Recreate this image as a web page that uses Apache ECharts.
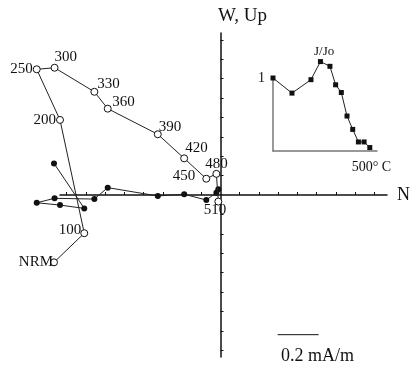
<!DOCTYPE html>
<html><head><meta charset="utf-8">
<script src="https://cdn.jsdelivr.net/npm/echarts@6/dist/echarts.min.js"></script>
<style>html,body{margin:0;padding:0;background:#fff}#c{width:413px;height:370px}</style>
</head><body><div id="c"></div>
<script>
// Demagnetization steps
const steps = ['NRM','100','200','250','300','330','360','390','420','450','480','510'];
const stepTemps = [0,100,200,250,300,330,360,390,420,450,480,510];
// N component (0.1 mA/m units)
const northVals = [-8.66,-7.10,-8.35,-9.55,-8.63,-6.58,-5.89,-3.31,-1.95,-0.81,-0.29,-0.19];
// vertical projection (W, Up) - open circles
const upVals = [-3.47,-1.97,3.87,6.48,6.56,5.32,4.45,3.13,1.89,0.84,1.09,-0.34];
// horizontal projection - filled circles
const horizVals = [1.63,-0.69,-0.52,-0.40,-0.17,-0.21,0.38,-0.05,0.04,-0.26,0.12,0.29];
// inset J/Jo
const jRatio = [1.0,0.793,0.977,1.225,1.160,0.907,0.801,0.479,0.296,0.124,0.124,0.047];
// axis ticks, axis extents and scale bar (0.1 mA/m units)
const mainTicks = [-8,-7,-6,-5,-4,-3,-2,-1,1,2,3,4,5,6,7,8];
const axisXExtent = [-8.35, 8.66];
const axisYExtent = [-8.35, 8.35];
const scaleBarX = [2.87, 4.98];
const scaleBarY = -7.2;
const insetTempLabel = 500;

// layout (pixels)
const W = 413, H = 370;
const ppu = 19.4, originX = 222, originY = 195;
const dataX = [-originX/ppu, (W-originX)/ppu];
const dataY = [-(H-originY)/ppu, originY/ppu];
const axGrid = {
  left: originX + axisXExtent[0]*ppu,
  right: W - (originX + axisXExtent[1]*ppu),
  top: originY - axisYExtent[1]*ppu,
  bottom: H - (originY - axisYExtent[0]*ppu)
};

const labelPlace = {
  'NRM': {position:'left', distance:0, offset:[3,0]},
  '100': {position:'left', distance:0, offset:[1,-3]},
  '200': {position:'left', distance:0, offset:[0,0]},
  '250': {position:'left', distance:0, offset:[0,0]},
  '300': {position:'right', distance:0, offset:[-4,-11]},
  '330': {position:'right', distance:0, offset:[-1,-7.5]},
  '360': {position:'right', distance:0, offset:[0.5,-7]},
  '390': {position:'right', distance:0, offset:[-3,-7.5]},
  '420': {position:'right', distance:0, offset:[-3,-10]},
  '450': {position:'left', distance:7, offset:[0,-3]},
  '480': {position:'right', distance:0, offset:[-15,-10]},
  '510': {position:'right', distance:0, offset:[-18.5,8.5]}
};
const serif = '"Liberation Serif","DejaVu Serif",serif';

const openData = steps.map((s,i)=>({
  value:[northVals[i], upVals[i]],
  label: Object.assign({show:true, formatter:s, fontFamily:serif, fontSize:15, color:'#111'}, labelPlace[s])
}));
const filledData = steps.map((s,i)=>[northVals[i], horizVals[i]]);
const insetData = steps.map((s,i)=>[stepTemps[i], jRatio[i]]);

const hiddenAxis = {axisLine:{show:false}, axisTick:{show:false}, axisLabel:{show:false}, splitLine:{show:false}};

const chart = echarts.init(document.getElementById('c'), null, {renderer:'canvas'});
chart.setOption({
  animation:false,
  backgroundColor:'#fff',
  title:[
    {text:'W, Up', left:218, top:7, padding:0, textStyle:{fontFamily:serif, fontSize:19, fontWeight:'normal', color:'#111'}},
    {text:'J/Jo', left:314, top:45, padding:0, textStyle:{fontFamily:serif, fontSize:13, fontWeight:'normal', color:'#111'}},
    {text:'0.2 mA/m', left:281, top:347, padding:0, textStyle:{fontFamily:serif, fontSize:18, fontWeight:'normal', color:'#111'}}
  ],
  grid:[
    {left:axGrid.left, right:axGrid.right, top:axGrid.top, bottom:axGrid.bottom},
    {left:273, top:78, width:104, height:73},
    {left:0, right:0, top:0, bottom:0}
  ],
  xAxis:[
    {type:'value', gridIndex:0, min:axisXExtent[0], max:axisXExtent[1],
     axisLine:{onZero:true, lineStyle:{color:'#111', width:1.5}},
     axisTick:{show:true, inside:true, length:3, customValues:mainTicks, lineStyle:{color:'#111', width:1}},
     axisLabel:{show:false}, splitLine:{show:false},
     name:'N', nameLocation:'end', nameGap:10,
     nameTextStyle:{fontFamily:serif, fontSize:18, color:'#111', verticalAlign:'middle'}},
    {type:'value', gridIndex:1, min:0, max:548,
     axisLine:{lineStyle:{color:'#777', width:1.5}},
     axisTick:{show:false},
     axisLabel:{show:true, customValues:[insetTempLabel], formatter:()=> '500\u00b0 C', fontFamily:serif, fontSize:14, color:'#111', margin:9, padding:[0,0,0,7]},
     splitLine:{show:false}},
    Object.assign({type:'value', gridIndex:2, min:dataX[0], max:dataX[1]}, hiddenAxis)
  ],
  yAxis:[
    {type:'value', gridIndex:0, min:axisYExtent[0], max:axisYExtent[1],
     axisLine:{onZero:true, lineStyle:{color:'#111', width:1.5}},
     axisTick:{show:true, inside:true, length:3, customValues:mainTicks, lineStyle:{color:'#111', width:1}},
     axisLabel:{show:false}, splitLine:{show:false}},
    {type:'value', gridIndex:1, min:0, max:1,
     axisLine:{show:true, lineStyle:{color:'#777', width:1.5}},
     axisTick:{show:false},
     axisLabel:{show:true, customValues:[1], fontFamily:serif, fontSize:14, color:'#111', margin:8},
     splitLine:{show:false}},
    Object.assign({type:'value', gridIndex:2, min:dataY[0], max:dataY[1]}, hiddenAxis)
  ],
  series:[
    {type:'line', xAxisIndex:2, yAxisIndex:2, data:filledData, z:3,
     symbol:'circle', symbolSize:6, itemStyle:{color:'#111'},
     lineStyle:{color:'#222', width:1}},
    {type:'line', xAxisIndex:2, yAxisIndex:2, data:openData, z:4,
     symbol:'circle', symbolSize:7, showAllSymbol:true,
     itemStyle:{color:'#fff', borderColor:'#111', borderWidth:1},
     lineStyle:{color:'#222', width:1}},
    {type:'line', xAxisIndex:2, yAxisIndex:2, data:scaleBarX.map(x=>[x, scaleBarY]),
     symbol:'none', lineStyle:{color:'#111', width:1}},
    {type:'line', xAxisIndex:1, yAxisIndex:1, data:insetData, clip:false, z:3,
     symbol:'rect', symbolSize:5, itemStyle:{color:'#111'},
     lineStyle:{color:'#222', width:1}}
  ]
});
</script></body></html>
